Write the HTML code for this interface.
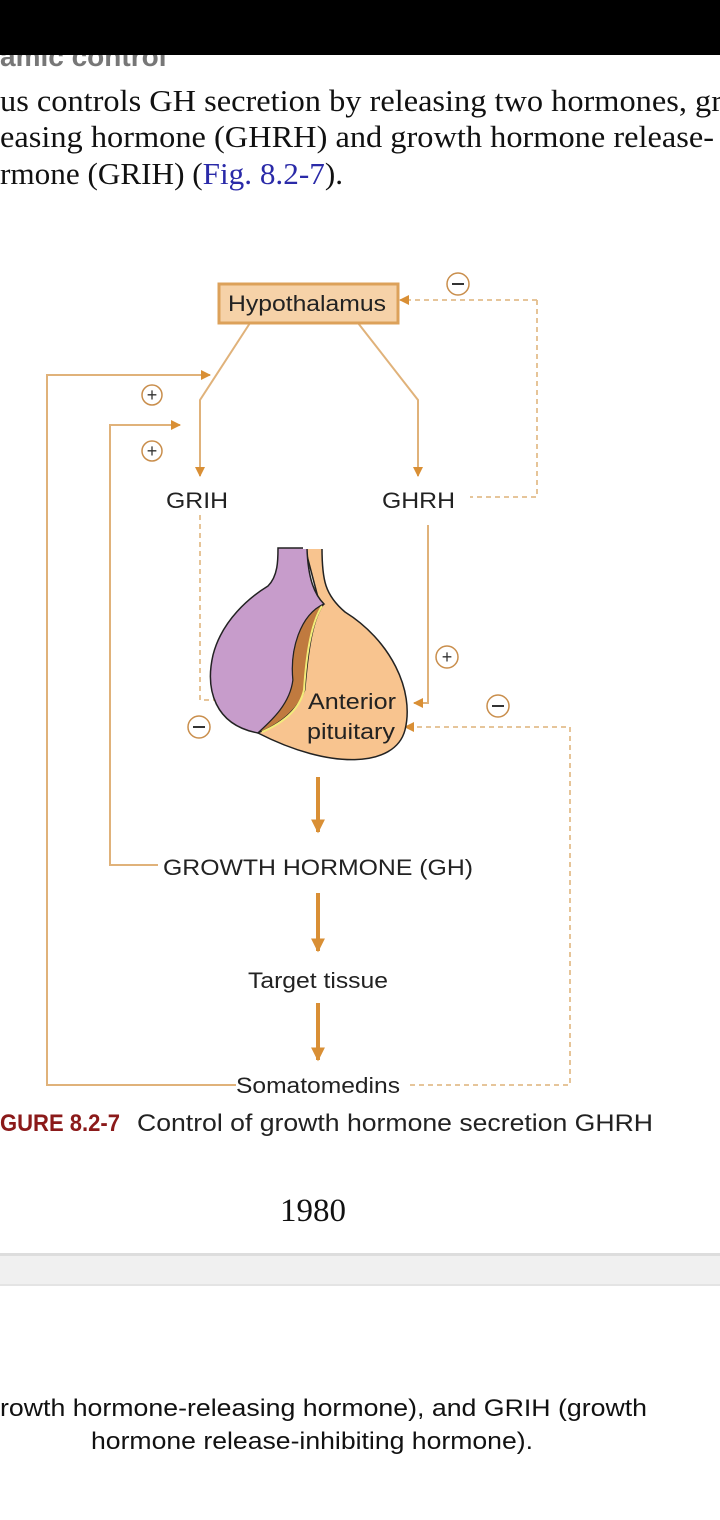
<!DOCTYPE html>
<html><head><meta charset="utf-8"><style>
html,body{margin:0;padding:0;background:#fff;}
svg{display:block;}
</style></head><body>
<svg width="720" height="1520" viewBox="0 0 720 1520" xmlns="http://www.w3.org/2000/svg">
<defs>
<marker id="ar" viewBox="0 0 10 10" refX="9" refY="5" markerWidth="10" markerHeight="10" markerUnits="userSpaceOnUse" orient="auto"><path d="M0,0 L10,5 L0,10 Z" fill="#d98f35"/></marker>
<marker id="ab" viewBox="0 0 10 10" refX="9" refY="5" markerWidth="14" markerHeight="16" markerUnits="userSpaceOnUse" orient="auto"><path d="M0,0 L10,5 L0,10 Z" fill="#d98f35"/></marker>
</defs>
<rect width="720" height="1520" fill="#fff"/>
<text x="0" y="66" font-family="Liberation Sans, sans-serif" font-weight="bold" font-size="28" fill="#777">amic control</text>
<rect x="0" y="0" width="720" height="55" fill="#000"/>
<g font-family="Liberation Serif, serif" font-size="31" fill="#111">
<text x="0" y="111" textLength="722" lengthAdjust="spacingAndGlyphs">us controls GH secretion by releasing two hormones, gr</text>
<text x="0" y="147" textLength="714" lengthAdjust="spacingAndGlyphs">easing hormone (GHRH) and growth hormone release-</text>
<text x="0" y="184" textLength="343" lengthAdjust="spacingAndGlyphs">rmone (GRIH) (<tspan fill="#2a2aa8">Fig. 8.2-7</tspan>).</text>
</g>
<g stroke="#e0b27a" stroke-width="2" fill="none">
<path d="M250,323 L200,400 L200,476" marker-end="url(#ar)"/>
<path d="M358,323 L418,400 L418,476" marker-end="url(#ar)"/>
<path d="M236,1085 L47,1085 L47,375 L210,375" marker-end="url(#ar)"/>
<path d="M158,865 L110,865 L110,425 L180,425" marker-end="url(#ar)"/>
<path d="M428,525 L428,703 L414,703" marker-end="url(#ar)"/>
</g>
<g stroke="#e3bd8c" stroke-width="1.8" fill="none" stroke-dasharray="5,4">
<path d="M537,300 L537,497 L470,497"/>
<path d="M537,300 L400,300" marker-end="url(#ar)"/>
<path d="M200,515 L200,700 L305,700" marker-end="url(#ar)"/>
<path d="M410,1085 L570,1085 L570,727 L405,727" marker-end="url(#ar)"/>
</g>
<rect x="219" y="284" width="179" height="39" fill="#f6d2a8" stroke="#dca15a" stroke-width="3"/>
<g fill="#fff" stroke="#c98e4c" stroke-width="1.5">
<circle cx="152" cy="395" r="10"/><circle cx="152" cy="451" r="10"/>
<circle cx="458" cy="284" r="11"/><circle cx="447" cy="657" r="11"/>
<circle cx="498" cy="706" r="11"/><circle cx="199" cy="727" r="11"/>
</g>
<g font-family="Liberation Sans, sans-serif" font-size="18" fill="#333" text-anchor="middle">
<text x="152" y="401">+</text><text x="152" y="457">+</text><text x="447" y="663">+</text>
</g>
<g stroke="#333" stroke-width="2">
<line x1="452" y1="284" x2="464" y2="284"/><line x1="492" y1="706" x2="504" y2="706"/><line x1="193" y1="727" x2="205" y2="727"/>
</g>
<path d="M305,548 L322,548 C322,580 325,595 345,612 C390,640 415,690 405,730 C395,768 330,770 258,733 L320,605 Z" fill="#f8c48f" stroke="#222" stroke-width="1.5"/>
<path d="M278,548 L307,548 C308,580 315,595 324,604 C300,615 290,650 293,680 C290,705 270,722 258,733 C215,725 205,690 213,655 C222,620 250,597 268,586 C278,576 278,560 278,548 Z" fill="#c79ccb" stroke="#222" stroke-width="1.5"/>
<path d="M324,604 C300,615 290,650 293,680 C290,705 270,722 258,733 C285,722 300,705 305,690 C308,655 312,620 324,604 Z" fill="#c07a3f" stroke="#222" stroke-width="1"/>
<path d="M322,606 C310,625 306,660 304,690 C300,708 285,722 262,732" stroke="#f3ec7a" stroke-width="2" fill="none"/>
<rect x="303" y="547" width="22" height="2" fill="#fff"/>
<g font-family="Liberation Sans, sans-serif" font-size="22" fill="#222" lengthAdjust="spacingAndGlyphs">
<text x="228" y="311" textLength="158" lengthAdjust="spacingAndGlyphs">Hypothalamus</text>
<text x="308" y="709" textLength="88" lengthAdjust="spacingAndGlyphs">Anterior</text>
<text x="307" y="739" textLength="88" lengthAdjust="spacingAndGlyphs">pituitary</text>
<text x="166" y="508" textLength="62" lengthAdjust="spacingAndGlyphs">GRIH</text>
<text x="382" y="508" textLength="73" lengthAdjust="spacingAndGlyphs">GHRH</text>
<text x="163" y="875" textLength="310" lengthAdjust="spacingAndGlyphs">GROWTH HORMONE (GH)</text>
<text x="248" y="988" textLength="140" lengthAdjust="spacingAndGlyphs">Target tissue</text>
<text x="236" y="1093" textLength="164" lengthAdjust="spacingAndGlyphs">Somatomedins</text>
</g>
<g stroke="#d98f35" stroke-width="4" fill="none">
<path d="M318,777 L318,832" marker-end="url(#ab)"/>
<path d="M318,893 L318,951" marker-end="url(#ab)"/>
<path d="M318,1003 L318,1060" marker-end="url(#ab)"/>
</g>
<g font-family="Liberation Sans, sans-serif" font-size="24">
<text x="0" y="1131" font-weight="bold" fill="#8b1a1a" textLength="120" lengthAdjust="spacingAndGlyphs">GURE 8.2-7</text>
<text x="137" y="1131" fill="#222" textLength="516" lengthAdjust="spacingAndGlyphs">Control of growth hormone secretion GHRH</text>
</g>
<text x="313" y="1221" text-anchor="middle" font-family="Liberation Serif, serif" font-size="33" fill="#111">1980</text>
<rect x="0" y="1253" width="720" height="32" fill="#f0f0f0"/>
<rect x="0" y="1253" width="720" height="3" fill="#ddd"/>
<rect x="0" y="1284" width="720" height="2" fill="#e4e4e4"/>
<g font-family="Liberation Sans, sans-serif" font-size="24" fill="#111">
<text x="0" y="1416" textLength="647" lengthAdjust="spacingAndGlyphs">rowth hormone-releasing hormone), and GRIH (growth</text>
<text x="91" y="1449" textLength="442" lengthAdjust="spacingAndGlyphs">hormone release-inhibiting hormone).</text>
</g>
</svg>
</body></html>
